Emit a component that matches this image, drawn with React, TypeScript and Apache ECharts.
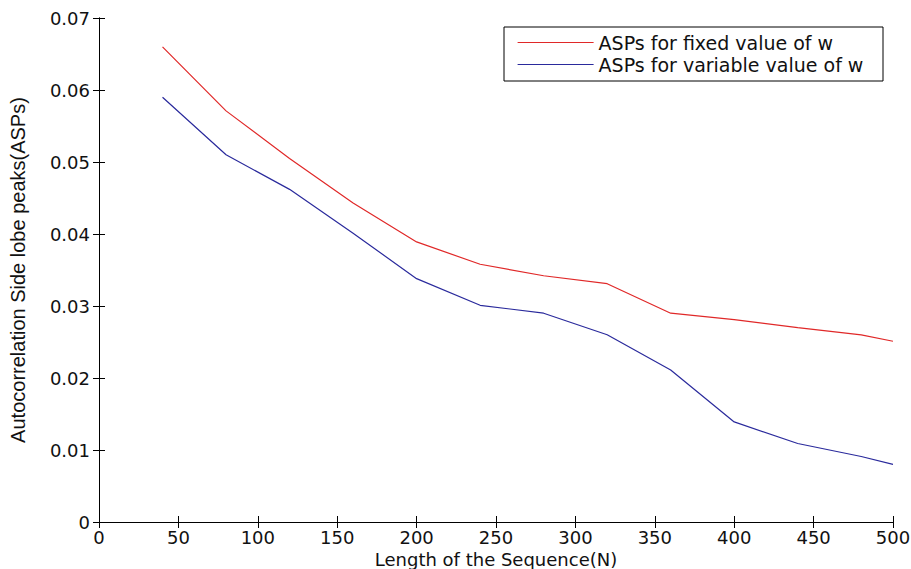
import React, { useEffect, useRef } from "react";
import * as echarts from "echarts";

const seqLength = [40, 80, 120, 160, 200, 240, 280, 320, 360, 400, 440, 480, 500];
const fixedW = [0.066, 0.0571, 0.0505, 0.0443, 0.0389, 0.0358, 0.0342, 0.0331, 0.029, 0.0281, 0.027, 0.026, 0.0251];
const variableW = [0.059, 0.051, 0.0462, 0.0401, 0.0338, 0.0301, 0.029, 0.026, 0.0211, 0.0139, 0.0109, 0.0091, 0.008];
const seriesNames = ["ASPs for fixed value of w", "ASPs for variable value of w"];
const xTitle = "Length of the Sequence(N)";
const yTitle = "Autocorrelation Side lobe peaks(ASPs)";

const FONT = "'DejaVu Sans', sans-serif";

export default function App() {
  const ref = useRef<HTMLDivElement>(null);
  useEffect(() => {
    if (!ref.current) return;
    const chart = echarts.init(ref.current, null, { renderer: "svg" });
    const axisLine = { show: true, lineStyle: { color: "#000", width: 1 } };
    const tick = { show: true, inside: true, length: 6, lineStyle: { color: "#000", width: 1 } };
    chart.setOption({
      animation: false,
      backgroundColor: "#fff",
      grid: { left: 99, right: 18, top: 18, bottom: 47, show: false, containLabel: false, outerBoundsMode: "none" },
      legend: {
        orient: "vertical",
        left: 517,
        top: 33,
        padding: 0,
        itemGap: 3,
        itemWidth: 76,
        itemHeight: 20,
        itemStyle: { opacity: 0 },
        lineStyle: { width: 1.2 },
        textStyle: { fontFamily: FONT, fontSize: 19, color: "#111" },
        data: seriesNames,
      },
      graphic: [
        {
          type: "rect",
          shape: { x: 504, y: 27, width: 379, height: 54 },
          style: { fill: "none", stroke: "#000", lineWidth: 1 },
          z: 10,
        },
      ],
      xAxis: [
        {
          type: "value",
          min: 0,
          max: 500,
          interval: 50,
          name: xTitle,
          nameLocation: "middle",
          nameGap: 26,
          nameTextStyle: { fontFamily: FONT, fontSize: 18, color: "#111" },
          axisLine,
          axisTick: tick,
          splitLine: { show: false },
          axisLabel: { fontFamily: FONT, fontSize: 18, color: "#111", margin: 6 },
        },
        {
          type: "value",
          position: "top",
          min: 0,
          max: 500,
          interval: 50,
          axisLine,
          axisTick: tick,
          splitLine: { show: false },
          axisLabel: { show: false },
        },
      ],
      yAxis: [
        {
          type: "value",
          min: 0,
          max: 0.07,
          interval: 0.01,
          name: yTitle,
          nameLocation: "middle",
          nameRotate: 90,
          nameGap: 71,
          nameTextStyle: { fontFamily: "'Liberation Sans', Arial, sans-serif", fontSize: 20, color: "#111" },
          axisLine,
          axisTick: tick,
          splitLine: { show: false },
          axisLabel: {
            fontFamily: FONT,
            fontSize: 18,
            color: "#111",
            margin: 9,
            formatter: (v: number) => (v === 0 ? "0" : v.toFixed(2)),
          },
        },
        {
          type: "value",
          position: "right",
          min: 0,
          max: 0.07,
          interval: 0.01,
          axisLine,
          axisTick: tick,
          splitLine: { show: false },
          axisLabel: { show: false },
        },
      ],
      series: [
        {
          name: seriesNames[0],
          type: "line",
          data: seqLength.map((x, i) => [x, fixedW[i]]),
          showSymbol: false,
          symbol: "none",
          lineStyle: { color: "#e02828", width: 1.2 },
          itemStyle: { color: "#e02828" },
        },
        {
          name: seriesNames[1],
          type: "line",
          data: seqLength.map((x, i) => [x, variableW[i]]),
          showSymbol: false,
          symbol: "none",
          lineStyle: { color: "#2a2a9c", width: 1.2 },
          itemStyle: { color: "#2a2a9c" },
        },
      ],
    });
    return () => chart.dispose();
  }, []);
  return <div ref={ref} style={{ position: "fixed", left: 0, top: 0, width: 911, height: 569 }} />;
}
